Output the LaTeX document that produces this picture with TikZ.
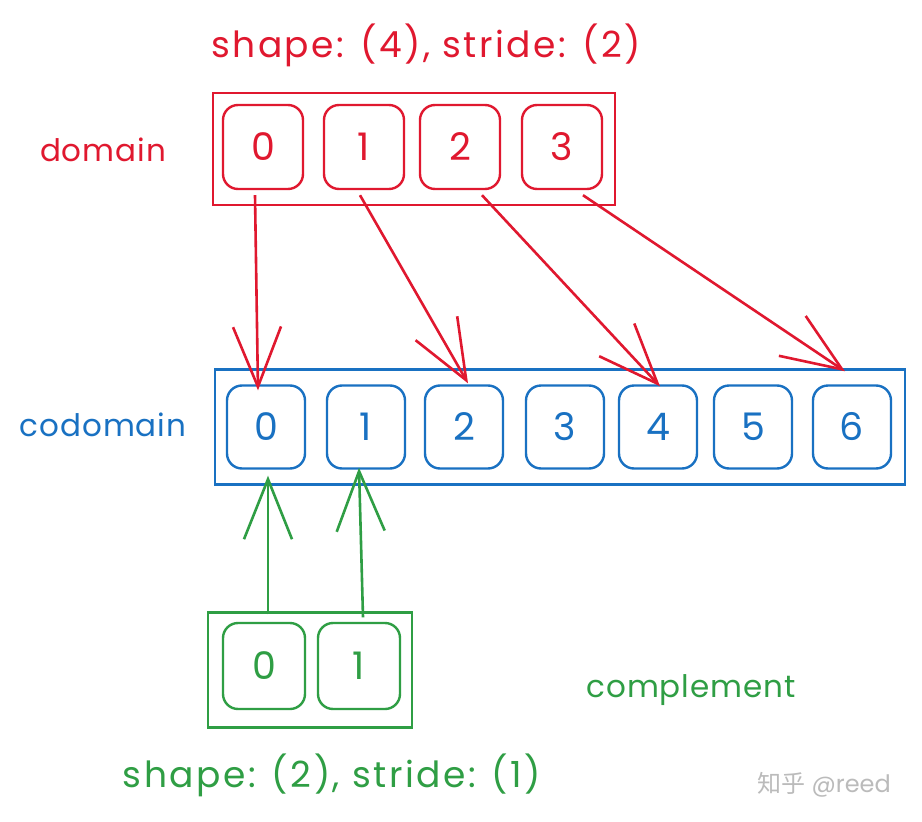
\documentclass[tikz,border=0pt]{standalone}
\usepackage{fontspec}
\setmainfont{Poppins}
\newfontfamily\titlefont[LetterSpace=7]{Poppins}
\newfontfamily\lblfont[LetterSpace=3]{Poppins}
\newfontfamily\cjkfont{Noto Sans CJK SC}
\usetikzlibrary{arrows.meta,calc}
\definecolor{xred}{HTML}{E0182F}
\definecolor{xblue}{HTML}{1971C2}
\definecolor{xgreen}{HTML}{2F9E44}
\definecolor{wmark}{HTML}{BBBBBB}
\begin{document}
\begin{tikzpicture}[x=1pt,y=-1pt,
  cell/.style={draw, rounded corners=15pt, line width=2.4pt, inner sep=0pt,
    minimum width=80pt, minimum height=84pt, font=\fontsize{38}{44}\selectfont},
  frame/.style={draw, rectangle, line width=2.4pt, inner sep=0pt},
  lbl/.style={inner sep=0pt, font=\lblfont\fontsize{31}{36}\selectfont},
  ttl/.style={inner sep=0pt, font=\titlefont\fontsize{36}{42}\selectfont},
  arr/.style={line width=2.6pt, -{Straight Barb[length=60pt,width=48pt,line width=2.6pt]}}
]
\useasboundingbox[fill=white] (0,0) rectangle (922,822);

% titles and labels
\node[ttl, text=xred] (t1) at (426,45) {shape: (4), stride: (2)};
\node[lbl, text=xred] (ldom) at (103,150) {domain};
\node[lbl, text=xblue] (lcod) at (103,425) {codomain};
\node[lbl, text=xgreen] (lcomp) at (691,690) {complement};
\node[ttl, text=xgreen] (t2) at (332,775) {shape: (2), stride: (1)};
\node[inner sep=0pt, text=wmark, font=\fontsize{24}{28}\selectfont] (wm) at (824,785) {{\cjkfont 知乎} @reed};

% domain
\node[frame, draw=xred, minimum width=402pt, minimum height=112pt] (dom) at (414,149) {};
\foreach \i/\x in {0/263,1/364,2/460,3/562}
  \node[cell, draw=xred, text=xred] (d\i) at (\x,147) {\i};

% codomain
\node[frame, draw=xblue, minimum width=690pt, minimum height=115pt] (cod) at (560,427) {};
\foreach \i/\x in {0/266,1/366,2/464,3/565,4/658,5/753,6/852}
  \node[cell, draw=xblue, text=xblue, minimum width=78pt, minimum height=83pt] (c\i) at (\x,427) {\i};

% complement
\node[frame, draw=xgreen, minimum width=204pt, minimum height=115pt] (comp) at (310,670) {};
\foreach \i/\x in {0/264,1/359}
  \node[cell, draw=xgreen, text=xgreen, minimum width=82pt, minimum height=86pt] (g\i) at (\x,666) {\i};

% red arrows
\draw[arr, xred] ([xshift=-8pt,yshift=-5pt]d0.south) -- ([xshift=-8pt,yshift=-6pt]c0.north);
\draw[arr, xred] ([xshift=-4pt,yshift=-5pt]d1.south) -- ([xshift=4pt,yshift=1pt]c2.north);
\draw[arr, xred] ([xshift=22pt,yshift=-5pt]d2.south) -- ([xshift=2pt,yshift=-2pt]c4.north);
\draw[arr, xred] ([xshift=21pt,yshift=-5pt]d3.south) -- ([xshift=-7pt,yshift=13pt]c6.north);

% green arrows
\draw[arr, xgreen] ([xshift=4pt,yshift=-3pt]comp.north -| g0.north) -- ([xshift=4pt,yshift=-6pt]c0.south -| g0.north);
\draw[arr, xgreen] ([xshift=4pt,yshift=-6pt]comp.north -| g1.north) -- ([yshift=2pt]c1.south -| g1.north);
\end{tikzpicture}
\end{document}
